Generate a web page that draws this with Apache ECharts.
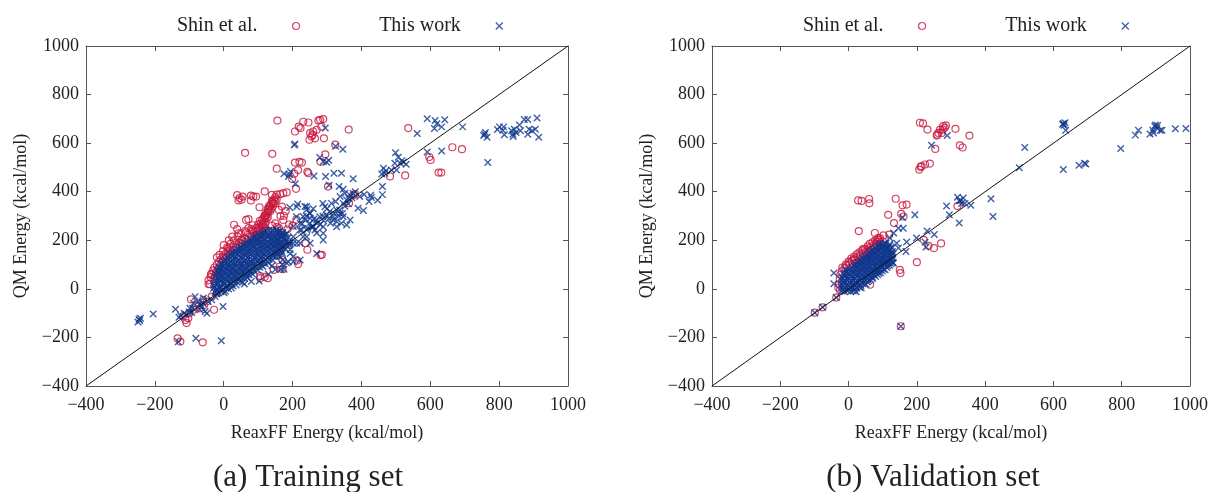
<!DOCTYPE html>
<html>
<head>
<meta charset="utf-8">
<script src="https://cdn.jsdelivr.net/npm/echarts@6/dist/echarts.min.js"></script>
<style>
  html, body { margin: 0; padding: 0; background: #ffffff; }
  #chart { width: 1231px; height: 492px; }
</style>
</head>
<body>
<div id="chart"></div>
<script>
// Energies in kcal/mol, [ReaxFF, QM]

// Training set, Shin et al. parameters
const trainShin = [
  // upper outliers
  [156,693],[207,648],[218,668],[223,662],[231,688],[246,685],[251,641],[255,627],[260,648],[249,614],
  [270,655],[275,693],[280,696],[289,699],[284,668],[291,620],[258,634],[265,620],[363,656],
  [62,560],[141,556],[154,495],[207,520],[220,523],[227,520],[199,452],[210,412],[216,489],[205,474],
  [243,482],[246,476],[281,523],[295,554],[324,594],[303,421],
  [536,662],[664,583],[692,575],[597,543],[601,531],[483,463],[527,467],[624,479],[632,479],
  [381,390],[376,385],[364,353],
  [39,386],[43,364],[52,367],[46,374],[55,380],[79,384],[86,380],[94,380],[79,364],[104,336],
  [119,401],[140,387],[164,390],[173,394],[183,397],[154,369],[144,353],[169,339],[160,325],
  [130,318],[119,298],[30,264],[39,246],[43,229],[65,284],[72,287],[13,166],[54,202],[96,222],
  [145,192],[175,301],[173,284],[211,285],[238,188],[243,161],[213,117],[216,102],[281,139],[285,140],
  [171,119],[171,81],[106,53],[119,49],[128,44],[106,44],[145,78],[163,92],
  [160,250],[170,230],[185,245],[150,270],[165,300],[180,320],[130,240],[140,260],[155,255],[190,265],[200,260],
  // rising band above the main cluster
  [96,210],[100,222],[104,234],[106,246],[110,258],[113,268],[117,280],[120,292],[124,304],[127,314],
  [131,326],[134,338],[138,348],[142,358],[146,368],[150,378],[154,388],[92,218],[98,238],[103,252],
  [108,270],[112,285],[118,300],[122,312],[128,330],[132,342],[140,362],[106,228],[115,262],[125,290],
  [135,320],[145,350],[88,230],[94,250],[100,265],[105,280],[120,272],[128,296],[138,330],[150,360],
  [112,240],[118,252],[86,205],[80,215],[75,228],[84,240],
  // upper-left edge of the main cluster
  [-40,20],[-44,35],[-38,48],[-36,62],[-31,75],[-27,88],[-20,100],[-14,112],[-8,122],[-2,134],
  [5,144],[12,153],[20,162],[28,172],[36,182],[44,190],[52,198],[60,207],[-30,40],[-26,55],
  [-22,70],[-16,84],[-10,96],[-4,110],[2,122],[8,132],[16,140],[22,150],[30,160],[38,168],
  [46,176],[54,186],[62,194],[70,203],[-12,140],[-2,155],[10,170],[20,185],[30,200],[40,215],
  [50,228],[62,238],[72,250],[84,262],[-20,130],[0,180],[15,200],[25,215],[65,232],[80,245],
  // low and negative energies
  [-37,58],[-44,19],[-28,-86],[-57,-66],[-95,-43],[-108,-141],[-111,-128],[-134,-204],[-126,-217],
  [-61,-220],[-103,-121],[-88,-86],[-69,-80],[-49,-52],[-35,-32],[-20,-18],[-80,-70],[-118,-112],
  [-100,-100],[-60,-45]
];

// Training set, this work
const trainOurs = [
  // negative tail
  [-246,-125],[-242,-121],[-249,-136],[-244,-130],[-205,-104],[-140,-84],[-130,-117],[-125,-111],
  [-115,-100],[-132,-218],[-81,-203],[-7,-214],[-83,-32],[-54,-93],[-2,-73],
  [-98,-80],[-88,-59],[-74,-52],[-64,-73],[-49,-100],[-45,-52],[-35,-45],[-25,-32],[-20,-21],
  [-59,-38],[-69,-86],[-93,-97],[-60,-60],[-70,-65],[-100,-95],[-110,-105],[-90,-80],
  // main cluster
  [-25,-14],[-16,-17],[-8,-12],[1,-16],[5,-10],[-20,-8],[-4,-6],
  [-30,2],[-21,-3],[-12,1],[-3,-2],[6,3],[14,-1],[22,4],[-26,8],[-8,7],[10,8],
  [-29,14],[-20,17],[-11,12],[-1,16],[8,13],[18,17],[27,12],[36,16],[-15,22],[3,22],[22,22],
  [-27,31],[-18,28],[-9,33],[1,29],[10,32],[20,28],[29,33],[38,29],[47,31],[55,27],[-13,38],[6,38],[25,38],[43,38],
  [-24,46],[-15,43],[-6,47],[4,44],[13,48],[23,43],[32,46],[42,44],[51,47],[61,43],[69,46],[-10,53],[9,53],[28,53],[47,53],[65,53],
  [-22,59],[-13,62],[-3,58],[7,61],[16,59],[26,63],[35,58],[45,62],[54,59],[64,61],[74,57],[84,60],[-17,68],[2,68],[21,68],[40,68],[59,68],[79,68],
  [-18,76],[-8,73],[2,77],[12,74],[21,78],[31,73],[40,76],[50,74],[60,78],[69,73],[79,76],[89,74],[99,77],[-13,83],[7,83],[26,83],[45,83],[65,83],[84,83],
  [-12,89],[-2,92],[8,88],[18,91],[27,89],[37,93],[46,88],[56,91],[66,89],[75,93],[85,88],[95,91],[105,89],[114,92],[-7,98],[13,98],[32,98],[51,98],[71,98],[90,98],[109,98],
  [-5,106],[5,103],[15,107],[24,104],[34,108],[44,103],[53,106],[63,104],[73,108],[82,103],[92,106],[102,104],[112,107],[121,103],[130,106],[0,113],[20,113],[39,113],[58,113],[78,113],[97,113],[117,113],
  [5,119],[15,122],[25,118],[34,121],[44,119],[54,123],[63,118],[73,121],[83,119],[92,122],[102,118],[112,121],[122,119],[132,122],[143,118],[10,128],[30,128],[49,128],[68,128],[88,128],[107,128],[127,128],
  [15,134],[25,137],[35,133],[45,136],[55,134],[64,138],[74,133],[84,136],[94,134],[103,137],[113,133],[123,136],[133,134],[143,137],[152,133],[160,136],[20,143],[40,143],[59,143],[79,143],[98,143],[118,143],[138,143],[155,143],
  [25,151],[35,148],[45,152],[55,149],[65,153],[75,148],[85,151],[95,149],[105,153],[115,148],[125,151],[135,149],[145,152],[155,148],[165,151],[170,149],[33,158],[52,158],[72,158],[91,158],[110,158],[130,158],[150,158],[168,158],
  [40,164],[50,167],[60,163],[70,166],[80,164],[90,168],[100,163],[110,166],[120,164],[130,167],[140,163],[150,166],[160,164],[170,167],[180,163],[48,173],[67,173],[86,173],[106,173],[126,173],[146,173],[166,173],
  [55,181],[65,178],[75,182],[85,179],[95,183],[105,178],[115,181],[125,179],[135,182],[145,178],[155,181],[165,179],[175,182],[185,178],[190,181],[63,188],[82,188],[102,188],[121,188],[141,188],[161,188],[180,188],
  [70,194],[80,197],[90,193],[100,196],[110,194],[120,198],[130,193],[140,196],[150,194],[160,197],[170,193],[180,196],[192,194],[78,203],[98,203],[117,203],[137,203],[157,203],[176,203],
  [86,211],[96,208],[106,212],[116,209],[126,213],[136,208],[146,211],[156,209],[166,212],[176,208],[188,211],[93,218],[113,218],[133,218],[153,218],[172,218],
  [101,224],[111,227],[121,223],[131,226],[141,224],[151,228],[161,223],[171,226],[180,224],[116,233],[136,233],[156,233],[172,233],
  [122,239],[132,242],[142,238],[152,241],[163,239],
  // spread to the right of the cluster
  [103,32],[80,30],[60,20],[130,60],[150,80],[170,100],[140,95],[171,119],[175,81],[166,81],
  [154,188],[164,215],[183,229],[202,257],[222,270],[202,188],[193,161],[222,188],[241,243],[231,215],
  [260,257],[154,243],[173,174],[144,133],[164,133],[202,133],[222,119],[183,106],[231,298],[251,291],
  [270,270],[251,188],[212,338],[241,338],[270,284],[251,311],[226,242],[260,256],[289,229],[318,284],
  [328,256],[338,311],[347,297],[367,284],[289,201],[270,146],[241,215],[212,188],[193,146],[202,112],[188,112],
  [240,300],[250,270],[279,297],[298,304],[308,318],[318,297],[328,325],[313,352],[337,325],[347,352],
  [357,366],[366,387],[376,393],[328,277],[342,270],[357,263],[289,256],[265,242],[221,242],[202,215],
  [192,187],[211,297],[236,284],[305,289],[320,310],[335,300],[352,340],[362,350],[372,375],[290,280],
  [280,265],[255,255],[345,310],[300,330],[310,270],[270,230],[228,268],[250,310],[260,330],[325,360],
  [338,380],[382,400],[395,380],[288,300],[262,288],[244,250],
  // upper outliers
  [205,592],[207,597],[295,662],[325,587],[346,575],[279,541],[289,524],[305,530],[299,521],
  [194,483],[191,471],[175,474],[188,463],[262,465],[296,463],[320,476],[342,476],[376,453],[208,433],
  [192,335],[215,349],[236,339],[241,326],[288,351],[294,338],[306,427],[335,421],[347,410],[352,394],[363,373],
  [499,560],[513,517],[522,522],[530,513],[464,497],[471,486],[459,473],[497,517],[507,542],[517,528],
  [487,489],[502,489],[468,476],[461,421],
  [408,389],[427,385],[429,376],[447,365],[461,388],[422,360],[390,332],[406,323],
  [562,640],[591,700],[614,693],[619,680],[642,696],[633,667],[612,660],[694,667],[591,564],[633,568],
  [760,644],[755,631],[765,624],[758,637],[767,520],
  [795,656],[801,667],[813,667],[811,653],[815,635],
  [836,651],[840,637],[844,657],[849,644],[841,627],[862,651],[859,675],[873,697],[883,697],[887,657],
  [896,651],[910,704],[905,657],[915,624],[883,637]
];

// Validation set, Shin et al. parameters
const validShin = [
  [209,684],[218,681],[231,656],[258,631],[263,642],[268,656],[277,670],[276,656],[282,663],[285,673],
  [273,642],[260,635],[313,659],[354,631],
  [207,491],[214,505],[224,512],[238,516],[211,502],
  [254,576],[326,591],[334,582],
  [28,364],[38,362],[60,370],[61,352],[138,371],[116,305],[154,309],[158,344],[170,347],[161,298],
  [133,271],[30,238],[200,110],[220,202],[234,177],[250,168],[271,187],[319,341],
  [42,164],[16,120],[119,223],[90,202],[86,209],[82,195],[92,209],[102,220],[77,230],
  [150,78],[152,65],[63,17],
  [-99,-98],[-76,-76],[-36,-36],[153,-154],
  // upper-left edge of the main cluster
  [-28,20],[-26,40],[-24,58],[-20,72],[-12,85],[-5,95],[3,105],[10,115],[18,122],[26,130],
  [34,138],[42,145],[50,152],[58,160],[64,170],[72,178],[80,186],[86,195],[-18,88],[-8,100],
  [0,112],[8,125],[16,132],[24,142],[32,150],[40,158],[48,165],[56,175],[62,185],[70,192],
  [78,200],[45,130],[55,140],[60,150],[68,160],[75,168],[38,120],[30,112],[20,105],[85,175],
  [92,185],[100,195],[65,125],[52,118],[-30,5],[-25,-5]
];

// Validation set, this work
const validOurs = [
  [629,681],[634,684],[631,674],[636,653],[627,678],[516,582],[500,499],
  [629,491],[675,509],[691,517],[695,514],[797,578],[840,633],[849,653],
  [883,638],[891,653],[897,670],[899,675],[905,673],[903,662],[913,652],[918,653],[893,642],
  [957,659],[988,660],[289,631],[243,591],
  [417,371],[423,298],[319,377],[328,364],[336,374],[341,352],[358,344],[331,351],[324,363],
  [287,341],[324,271],[295,305],[194,305],[158,294],[160,250],
  [199,209],[230,238],[251,224],[224,193],[227,172],[170,193],[168,154],[146,168],
  [132,230],[121,209],[146,250],[-43,65],[-43,21],[-9,78],
  [-99,-98],[-76,-76],[-36,-36],[153,-154],
  [141,188],[106,188],[92,175],[111,161],[97,120],[82,106],[131,106],
  // main cluster
  [-21,-9],[-12,-12],[-3,-8],[6,-11],[14,-9],[22,-12],[-16,-3],[2,-3],[18,-3],
  [-21,6],[-12,3],[-3,7],[6,4],[15,6],[24,3],[32,7],[37,4],[-16,13],[2,13],[20,13],[36,13],
  [-21,19],[-12,22],[-3,18],[6,21],[15,19],[24,23],[33,18],[42,21],[51,19],[-16,28],[2,28],[20,28],[38,28],[55,28],
  [-21,36],[-12,33],[-3,37],[6,34],[15,36],[24,33],[33,37],[42,34],[51,36],[59,33],[65,37],[-16,43],[2,43],[20,43],[38,43],[56,43],[70,43],
  [-20,49],[-11,52],[-2,48],[7,51],[16,49],[25,53],[34,48],[43,51],[52,49],[61,52],[70,48],[79,51],[-14,58],[3,58],[21,58],[39,58],[57,58],[75,58],[85,58],
  [-10,66],[-1,63],[8,67],[17,64],[26,66],[35,63],[44,67],[53,64],[62,66],[71,63],[80,67],[89,64],[93,66],[-4,73],[13,73],[31,73],[49,73],[67,73],[85,73],[99,73],
  [3,79],[12,82],[21,78],[30,81],[39,79],[48,83],[57,78],[66,81],[75,79],[84,82],[93,78],[102,81],[107,79],[9,88],[26,88],[44,88],[62,88],[80,88],[98,88],[112,88],
  [15,96],[24,93],[33,97],[42,94],[51,96],[60,93],[69,97],[78,94],[87,96],[96,93],[105,97],[114,94],[120,96],[21,103],[39,103],[57,103],[75,103],[93,103],[111,103],[124,103],
  [28,109],[37,112],[46,108],[55,111],[64,109],[73,113],[82,108],[91,111],[100,109],[109,112],[118,108],[127,111],[130,109],[35,118],[53,118],[71,118],[89,118],[107,118],[125,118],
  [41,126],[50,123],[59,127],[68,124],[77,126],[86,123],[95,127],[104,124],[113,126],[122,123],[130,127],[48,133],[66,133],[84,133],[102,133],[120,133],
  [54,139],[63,142],[72,138],[81,141],[90,139],[99,142],[108,138],[117,141],[126,139],[130,142],[60,148],[78,148],[96,148],[114,148],[128,148],
  [66,156],[75,153],[84,157],[93,154],[102,156],[111,153],[120,157],[128,154],[73,163],[91,163],[109,163],[124,163],
  [79,169],[88,172],[97,168],[106,171],[115,169],[125,172],[86,178],[104,178],[121,178],
  [92,186],[101,183],[110,187],[120,184]
];

// Parity line y = x across the full axis range
const parityLine = [[-400,-400],[1000,1000]];

const axisMin = -400, axisMax = 1000, axisStep = 200;
const seriesNames = ['Shin et al.', 'This work'];
const captions = ['(a) Training set', '(b) Validation set'];
const xTitle = 'ReaxFF Energy (kcal/mol)';
const yTitle = 'QM Energy (kcal/mol)';

const RED = '#c8173d';
const BLUE = '#0f378d';
const FONT = 'Liberation Serif';
const CROSS = 'path://M0,0L10,10M10,0L0,10';

const fmt = v => (v < 0 ? '\u2212' + Math.abs(v) : String(v));

const grids = [
  { left: 86, top: 46, width: 482, height: 340 },
  { left: 712, top: 46, width: 478, height: 340 }
];

const xAxes = [], yAxes = [];
grids.forEach((g, i) => {
  const base = {
    gridIndex: i, type: 'value', min: axisMin, max: axisMax, interval: axisStep,
    splitLine: { show: false },
    axisLine: { show: true, onZero: false, lineStyle: { color: '#555', width: 1 } },
    axisTick: { show: true, inside: true, length: 5, lineStyle: { color: '#555' } }
  };
  xAxes.push(Object.assign({}, base, {
    position: 'bottom',
    name: xTitle, nameLocation: 'middle', nameGap: 38,
    nameTextStyle: { fontFamily: FONT, fontSize: 18, color: '#222' },
    axisLabel: { formatter: fmt, margin: 10, fontFamily: FONT, fontSize: 18, color: '#222' }
  }));
  xAxes.push(Object.assign({}, base, { position: 'top', axisLabel: { show: false } }));
  yAxes.push(Object.assign({}, base, {
    position: 'left',
    name: yTitle, nameLocation: 'middle', nameGap: 56,
    nameTextStyle: { fontFamily: FONT, fontSize: 18, color: '#222' },
    axisLabel: { formatter: fmt, margin: 7, fontFamily: FONT, fontSize: 18, color: '#222' }
  }));
  yAxes.push(Object.assign({}, base, { position: 'right', axisLabel: { show: false } }));
});

const panels = [
  { shin: trainShin, ours: trainOurs },
  { shin: validShin, ours: validOurs }
];

const series = [];
panels.forEach((p, i) => {
  series.push({
    name: seriesNames[0], type: 'scatter', xAxisIndex: i * 2, yAxisIndex: i * 2,
    data: p.shin, symbol: 'circle', symbolSize: 7, z: 2,
    itemStyle: { color: 'rgba(0,0,0,0)', borderColor: RED, borderWidth: 1.2 },
    emphasis: { disabled: true }, animation: false
  });
  series.push({
    name: seriesNames[1], type: 'scatter', xAxisIndex: i * 2, yAxisIndex: i * 2,
    data: p.ours, symbol: CROSS, symbolSize: 6.5, z: 3,
    itemStyle: { color: 'rgba(0,0,0,0)', borderColor: BLUE, borderWidth: 1.4 },
    emphasis: { disabled: true }, animation: false
  });
  series.push({
    type: 'line', xAxisIndex: i * 2, yAxisIndex: i * 2, data: parityLine,
    symbol: 'none', silent: true, z: 4, animation: false,
    lineStyle: { color: '#111', width: 1 }
  });
});

const legendData = [
  { name: seriesNames[0], icon: 'circle',
    itemStyle: { color: 'rgba(0,0,0,0)', borderColor: RED, borderWidth: 1.2 } },
  { name: seriesNames[1], icon: CROSS,
    itemStyle: { color: 'rgba(0,0,0,0)', borderColor: BLUE, borderWidth: 1.3 } }
];

// Gnuplot-style key: the sample sits well to the right of its label
const keySpacer = '\u00a0'.repeat(6);

const legends = [172, 798].map(x => ({
  left: x, top: 11, orient: 'horizontal', align: 'right',
  itemWidth: 7, itemHeight: 7, itemGap: 79, selectedMode: false,
  data: legendData,
  formatter: name => name + keySpacer,
  textStyle: { fontFamily: FONT, fontSize: 20, color: '#222' }
}));

const option = {
  backgroundColor: '#ffffff',
  animation: false,
  grid: grids,
  xAxis: xAxes,
  yAxis: yAxes,
  legend: legends,
  series: series,
  graphic: [
    { type: 'text', x: 308, y: 478,
      style: { text: captions[0], font: '31px "Liberation Serif"', fill: '#222', align: 'center', verticalAlign: 'middle' } },
    { type: 'text', x: 933, y: 478,
      style: { text: captions[1], font: '31px "Liberation Serif"', fill: '#222', align: 'center', verticalAlign: 'middle' } }
  ]
};

const chart = echarts.init(document.getElementById('chart'), null, { renderer: 'canvas' });
chart.setOption(option);
</script>
</body>
</html>
